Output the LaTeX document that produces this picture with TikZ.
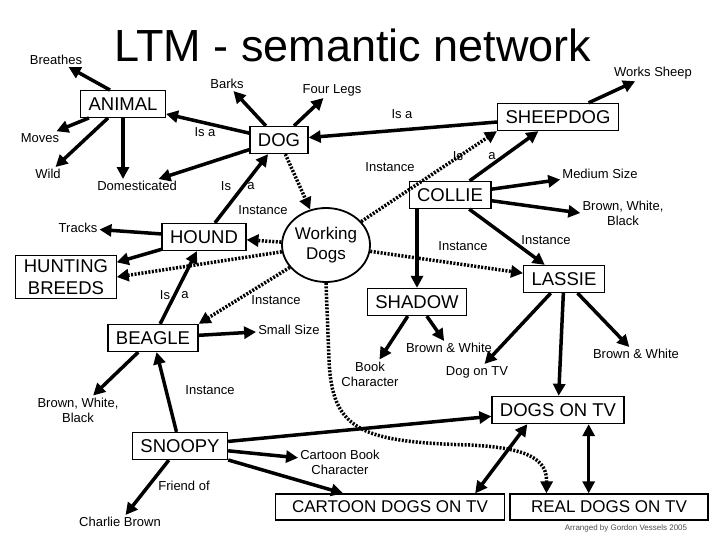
\documentclass[tikz,border=0pt]{standalone}
\usepackage{fontspec}
\setmainfont{Liberation Sans}
\usetikzlibrary{arrows.meta,calc,shapes.geometric}
\begin{document}
\begin{tikzpicture}[x=1pt,y=-1pt,
  box/.style={draw,line width=1.2pt,font=\fontsize{18.5}{20}\selectfont,inner xsep=8pt,inner ysep=7pt},
  lbl/.style={font=\fontsize{13}{15}\selectfont,inner sep=2pt,align=center},
  arr/.style={line width=3.5pt,-{Triangle[length=12pt,width=12pt]}},
  dbl/.style={line width=3.5pt,{Triangle[length=12pt,width=12pt]}-{Triangle[length=12pt,width=12pt]}},
  dsh/.style={arr,dash pattern=on 2pt off 1.5pt}]
\useasboundingbox (0,0) rectangle (720,540);
\node[font=\fontsize{45}{48}\selectfont] (title) at (353,45) {LTM - semantic network};
\node[lbl] (breathes) at (56,60) {Breathes};
\node[box] (animal) at (123,104) {ANIMAL};
\node[lbl] (barks) at (227,84) {Barks};
\node[lbl] (four) at (332,90) {Four Legs};
\node[lbl] (works) at (653,73) {Works Sheep};
\node[box] (dog) at (279,140) {DOG};
\node[box] (sheep) at (558,117) {SHEEPDOG};
\node[lbl] (moves) at (40,138) {Moves};
\node[lbl] (wild) at (48,174) {Wild};
\node[lbl] (dom) at (137,186) {Domesticated};
\node[lbl] (l1) at (205,132) {Is a};
\node[lbl] (l2) at (402,114) {Is a};
\node[lbl] (l3a) at (226,186) {Is};
\node[lbl] (l3b) at (251,186) {a};
\node[lbl] (l4) at (390,167) {Instance};
\node[lbl] (l5a) at (458,156) {Is};
\node[lbl] (l5b) at (492,156) {a};
\node[lbl] (medium) at (600,174) {Medium Size};
\node[box] (collie) at (450,195) {COLLIE};
\node[lbl] (l6) at (263,210) {Instance};
\node[lbl] (bwb1) at (623,213) {Brown, White,\\Black};
\node[lbl] (tracks) at (78,228) {Tracks};
\node[box] (hound) at (204,237) {HOUND};
\node[draw,line width=1.8pt,ellipse,minimum width=88pt,minimum height=74pt,font=\fontsize{17}{20}\selectfont,align=center,inner sep=0pt] (wd) at (326,245) {Working\\Dogs};
\node[lbl] (l7) at (463,246) {Instance};
\node[lbl] (l8) at (546,240) {Instance};
\node[box,align=center,font=\fontsize{18.5}{22}\selectfont,inner ysep=4pt] (hunt) at (66,277) {HUNTING\\BREEDS};
\node[box] (lassie) at (564,279) {LASSIE};
\node[lbl] (l9a) at (165,295) {Is};
\node[lbl] (l9b) at (185,295) {a};
\node[lbl] (l10) at (276,300) {Instance};
\node[box] (shadow) at (417,302) {SHADOW};
\node[lbl] (small) at (289,330) {Small Size};
\node[box] (beagle) at (153,338) {BEAGLE};
\node[lbl] (book) at (370,374) {Book\\Character};
\node[lbl] (bw1) at (449,348) {Brown \& White};
\node[lbl] (dogtv) at (477,372) {Dog on TV};
\node[lbl] (bw2) at (636,354) {Brown \& White};
\node[lbl] (bwb2) at (78,410) {Brown, White,\\Black};
\node[lbl] (l11) at (210,390) {Instance};
\node[box] (dtv) at (558,410) {DOGS ON TV};
\node[box] (snoopy) at (180,446) {SNOOPY};
\node[lbl] (cbc) at (340,462) {Cartoon Book\\Character};
\node[lbl] (l12) at (184,486) {Friend of};
\node[lbl] (charlie) at (120,522) {Charlie Brown};
\node[box,minimum width=229pt,font=\fontsize{17}{20}\selectfont] (cdtv) at (390,507) {CARTOON DOGS ON TV};
\node[box,minimum width=198pt,font=\fontsize{17}{20}\selectfont] (rdtv) at (609,507) {REAL DOGS ON TV};
\node[font=\fontsize{8}{9}\selectfont,text=black!70] (credit) at (626,528) {Arranged by Gordon Vessels 2005};
\coordinate (dA) at ($(dtv.south west)!0.27!(dtv.south east)$);
\coordinate (dB) at ($(dtv.south west)!0.73!(dtv.south east)$);
\coordinate (cA) at ($(cdtv.north west)!0.87!(cdtv.north east)$);
\coordinate (rA) at ($(rdtv.north west)+(37,0)$);
% edges
\draw[arr] ($(animal.north west)+(30,0)$) -- (breathes);
\draw[arr] (animal) -- (moves);
\draw[arr] (animal) -- (wild);
\draw[arr] (animal.south) -- (dom.north -| animal.south);
\draw[arr] (dog) -- (animal);
\draw[arr] (dog) -- (barks);
\draw[arr] (dog) -- (four);
\draw[arr] (dog) -- (dom);
\draw[arr] (sheep) -- (dog);
\draw[arr] (sheep) -- (works);
\draw[dsh] (dog) -- (wd);
\draw[arr] (hound) -- (dog);
\draw[arr] (hound) -- (tracks);
\draw[arr] (hound) -- (hunt);
\draw[dsh] (wd) -- (hound);
\draw[dsh] (wd) -- (hunt.east);
\draw[dsh] (wd) -- (sheep.south west);
\draw[dsh] (wd) -- (lassie);
\draw[dsh] (wd) -- (beagle.north east);
\draw[dsh] (wd.south) -- (329,360) .. controls (332,430) and (360,442) .. (470,445) .. controls (530,448) and (547,460) .. (rA);
\draw[arr] (collie) -- (sheep);
\draw[arr] (collie) -- (medium);
\draw[arr] (collie) -- (bwb1.west);
\draw[arr] (collie.south -| shadow.north) -- (shadow);
\draw[arr] (collie) -- (lassie);
\draw[arr] (lassie) -- (dogtv);
\draw[arr] (lassie) -- (dtv);
\draw[arr] (lassie) -- (bw2);
\draw[arr] (shadow) -- (book);
\draw[arr] (shadow) -- (bw1);
\draw[arr] (beagle) -- (hound);
\draw[arr] (beagle) -- (small);
\draw[arr] (beagle) -- (bwb2);
\draw[arr] (snoopy) -- (beagle);
\draw[arr] (snoopy) -- (dtv);
\draw[arr] (snoopy) -- (cbc);
\draw[arr] (snoopy) -- (cdtv);
\draw[arr] (snoopy) -- (charlie);
\draw[dbl] (dA) -- (cA);
\draw[dbl] (dB) -- (dB |- rdtv.north);
\end{tikzpicture}
\end{document}
